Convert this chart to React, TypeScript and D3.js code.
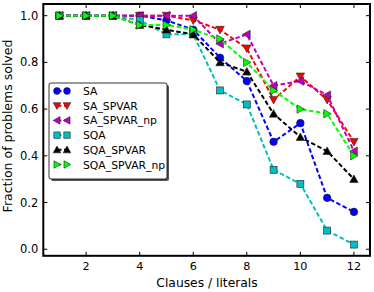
import React from "react";
import * as d3 from "d3";

const xs = [1, 2, 3, 4, 5, 6, 7, 8, 9, 10, 11, 12];
const seriesNames = ["SA", "SA_SPVAR", "SA_SPVAR_np", "SQA", "SQA_SPVAR", "SQA_SPVAR_np"];
const saVals = [1.0, 1.0, 1.0, 1.0, 0.98, 0.94, 0.82, 0.72, 0.46, 0.54, 0.22, 0.16];
const saSpvarVals = [1.0, 1.0, 1.0, 1.0, 1.0, 0.98, 0.94, 0.86, 0.64, 0.74, 0.64, 0.46];
const saSpvarNpVals = [1.0, 1.0, 1.0, 1.0, 1.0, 1.0, 0.88, 0.92, 0.70, 0.72, 0.66, 0.42];
const sqaVals = [1.0, 1.0, 1.0, 0.98, 0.92, 0.92, 0.68, 0.62, 0.34, 0.28, 0.08, 0.02];
const sqaSpvarVals = [1.0, 1.0, 1.0, 0.96, 0.94, 0.92, 0.80, 0.76, 0.58, 0.48, 0.42, 0.30];
const sqaSpvarNpVals = [1.0, 1.0, 1.0, 0.96, 0.96, 0.94, 0.90, 0.80, 0.68, 0.60, 0.58, 0.40];
const xTicks = [2, 4, 6, 8, 10, 12];
const yTicks = [0.0, 0.2, 0.4, 0.6, 0.8, 1.0];

const allVals = [saVals, saSpvarVals, saSpvarNpVals, sqaVals, sqaSpvarVals, sqaSpvarNpVals];
const colors = ["#0000ff", "#ff0000", "#bf00bf", "#00bfbf", "#000000", "#00ff00"];
const markers = ["circle", "tdown", "tleft", "square", "tup", "tright"];

const W = 374, H = 292;
const L = 43.3, R = 370, T = 4, B = 255.8;
const FONT = "DejaVu Sans, sans-serif";

function Marker({ type, x, y, color, scale = 1 }: { type: string; x: number; y: number; color: string; scale?: number }) {
  const s = 4.2 * scale;
  const stroke = "#222";
  const sw = 0.6;
  if (type === "circle") return <circle cx={x} cy={y} r={3.8 * scale} fill={color} stroke={stroke} strokeWidth={sw} />;
  if (type === "square") return <rect x={x - 3.5 * scale} y={y - 3.5 * scale} width={7 * scale} height={7 * scale} fill={color} stroke={stroke} strokeWidth={sw} />;
  let pts: number[][] = [];
  if (type === "tup") pts = [[x, y - s], [x - s, y + s * 0.8], [x + s, y + s * 0.8]];
  if (type === "tdown") pts = [[x, y + s], [x - s, y - s * 0.8], [x + s, y - s * 0.8]];
  if (type === "tleft") pts = [[x - s, y], [x + s * 0.8, y - s], [x + s * 0.8, y + s]];
  if (type === "tright") pts = [[x + s, y], [x - s * 0.8, y - s], [x - s * 0.8, y + s]];
  return <polygon points={pts.map((p) => p.join(",")).join(" ")} fill={color} stroke={stroke} strokeWidth={sw} />;
}

export default function App() {
  const x = d3.scaleLinear().domain([0.4, 12.6]).range([L, R]);
  const y = d3.scaleLinear().domain([-0.028, 1.05]).range([B, T]);
  const line = d3.line<number>().x((_, i) => x(xs[i])).y((d) => y(d));
  const tl = 4;
  const legX = 49, legY = 83, legW = 118, legH = 96;
  return (
    <svg width={W} height={H} style={{ position: "absolute", left: 0, top: 0 }} fontFamily={FONT}>
      <rect x={0} y={0} width={W} height={H} fill="#fff" />
      {allVals.map((vals, k) => (
        <g key={k}>
          <path d={line(vals) || ""} fill="none" stroke={colors[k]} strokeWidth={2} strokeDasharray="4.5,2.5" />
          {vals.map((v, i) => (
            <Marker key={i} type={markers[k]} x={x(xs[i])} y={y(v)} color={colors[k]} />
          ))}
        </g>
      ))}
      {xTicks.map((t) => (
        <g key={t}>
          <line x1={x(t)} x2={x(t)} y1={B} y2={B - tl} stroke="#000" strokeWidth={1} />
          <line x1={x(t)} x2={x(t)} y1={T} y2={T + tl} stroke="#000" strokeWidth={1} />
          <text x={x(t)} y={B + 14.5} fontSize={11.2} textAnchor="middle">{t}</text>
        </g>
      ))}
      {yTicks.map((t) => (
        <g key={t}>
          <line x1={L} x2={L + tl} y1={y(t)} y2={y(t)} stroke="#000" strokeWidth={1} />
          <line x1={R} x2={R - tl} y1={y(t)} y2={y(t)} stroke="#000" strokeWidth={1} />
          <text x={L - 5} y={y(t) + 4} fontSize={11.5} textAnchor="end">{t.toFixed(1)}</text>
        </g>
      ))}
      <rect x={L} y={T} width={R - L} height={B - T} fill="none" stroke="#000" strokeWidth={2} />
      <text x={207} y={286.5} fontSize={12.3} textAnchor="middle">Clauses / literals</text>
      <text transform={`translate(12,${126}) rotate(-90)`} fontSize={12.5} textAnchor="middle">Fraction of problems solved</text>
      <g>
        <rect x={legX + 2} y={legY + 2} width={legW} height={legH} fill="#555" rx={2} />
        <rect x={legX} y={legY} width={legW} height={legH} fill="#fff" stroke="#000" strokeWidth={0.8} rx={2} />
        {seriesNames.map((n, k) => {
          const yy = legY + 8 + k * 14.7;
          return (
            <g key={n}>
              <line x1={57} x2={67} y1={yy} y2={yy} stroke={colors[k]} strokeWidth={2} strokeDasharray="4.5,2.5" />
              <Marker type={markers[k]} x={57} y={yy} color={colors[k]} scale={0.9} />
              <Marker type={markers[k]} x={67} y={yy} color={colors[k]} scale={0.9} />
              <text x={83} y={yy + 4} fontSize={10.8}>{n}</text>
            </g>
          );
        })}
      </g>
    </svg>
  );
}
